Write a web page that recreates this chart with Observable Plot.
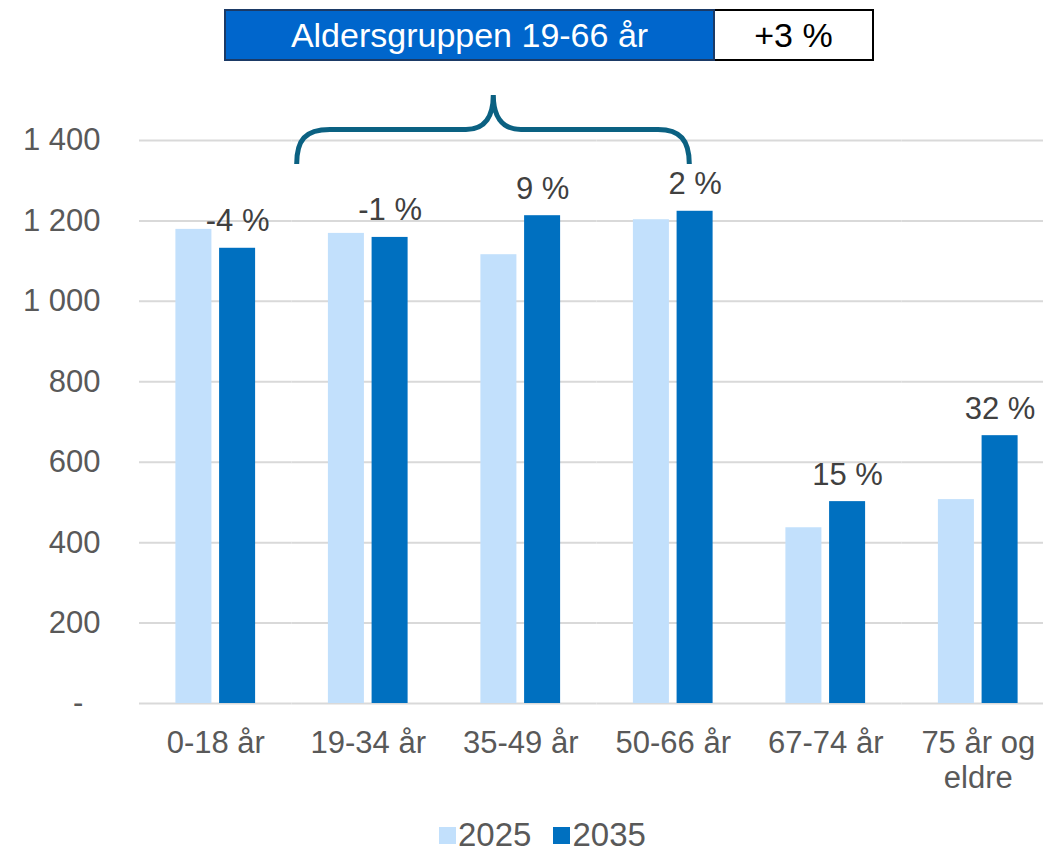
<!DOCTYPE html>
<html>
<head>
<meta charset="utf-8">
<script src="https://cdn.jsdelivr.net/npm/d3@7"></script>
<script src="https://cdn.jsdelivr.net/npm/@observablehq/plot@0.6"></script>
<style>
  html, body { margin: 0; padding: 0; background: #fff; overflow: hidden; }
  body { font-family: "Liberation Sans", Arial, sans-serif; }
  #wrap { position: relative; width: 1043px; height: 851px; }
  #header { position: absolute; left: 224px; top: 9px; display: flex; height: 52px; }
  #header div { box-sizing: border-box; height: 52px; display: flex; align-items: center; justify-content: center; font-size: 34px; }
  #hl { width: 491px; background: #0066CC; color: #fff; border: 2px solid #1B3A66; }
  #hr { width: 159px; background: #fff; color: #000; border: 2px solid #000; border-left: none; }
  #brace { position: absolute; left: 0; top: 0; }
  #chart { position: absolute; left: 0; top: 0; }
  #legend { position: absolute; left: 439px; top: 816px; display: flex; align-items: center; font-size: 33px; color: #595959; }
  #legend .sw { width: 17px; height: 17px; display: inline-block; margin-right: 2px; }
  #legend .item { display: flex; align-items: center; margin-right: 22px; }
</style>
</head>
<body>
<div id="wrap">
  <div id="chart"></div>
  <svg id="brace" width="1043" height="200">
    <path d="M296.7,164 C296.7,140 305,129.5 330,129.5 L466,129.5 C486,129.5 493.3,115 493.3,95 C493.3,115 501,129.5 521,129.5 L658,129.5 C680,129.5 689.3,140 689.3,164"
      fill="none" stroke="#0B6182" stroke-width="5"/>
  </svg>
  <div id="header"><div id="hl">Aldersgruppen 19-66 år</div><div id="hr">+3 %</div></div>
  <div id="legend"></div>
</div>
<script>
const categories = ["0-18 år", "19-34 år", "35-49 år", "50-66 år", "67-74 år", "75 år og\neldre"];
const years = ["2025", "2035"];
const values2025 = [1179, 1169, 1116, 1203, 437, 507];
const values2035 = [1132, 1159, 1213, 1224, 502, 666];
const changeLabels = ["-4 %", "-1 %", "9 %", "2 %", "15 %", "32 %"];
const yTicks = [0, 200, 400, 600, 800, 1000, 1200, 1400];
const colors = ["#C2E0FC", "#0070C0"];

const rows = categories.flatMap((c, i) => [
  {cat: c, year: years[0], value: values2025[i]},
  {cat: c, year: years[1], value: values2035[i]}
]);
const labelRows = categories.map((c, i) => ({cat: c, year: years[1], value: values2035[i], text: changeLabels[i]}));

const fmt = d => d === 0 ? "-\u2007" : d3.format(",")(d).replace(/,/g, "\u00a0");

const chart = Plot.plot({
  width: 1043,
  height: 805,
  marginTop: 140,
  marginLeft: 139,
  marginRight: 0,
  marginBottom: 102,
  style: {fontFamily: "Liberation Sans, Arial, sans-serif", background: "transparent"},
  fx: {domain: categories, range: [139, 1054], padding: 0, round: false, label: null},
  x: {domain: years, paddingInner: 0.176, paddingOuter: 0.833, round: false, axis: null},
  y: {domain: [0, 1400], label: null},
  color: {domain: years, range: colors},
  marks: [
    Plot.ruleY(yTicks, {stroke: "#D9D9D9", strokeWidth: 2}),
    Plot.barY(rows, {fx: "cat", x: "year", y: "value", fill: "year"}),
    Plot.text(labelRows, {fx: "cat", x: "year", y: "value", text: "text", lineAnchor: "bottom", dy: -17, fontSize: 31, fill: "#404040"}),
    Plot.axisY({ticks: yTicks, tickFormat: fmt, tickSize: 0, tickPadding: 39, fontSize: 31, fill: "#595959", label: null}),
    Plot.axisFx({anchor: "bottom", tickSize: 0, tickPadding: 25, fontSize: 31, fill: "#595959", lineHeight: 1.13, label: null})
  ]
});
document.getElementById("chart").appendChild(chart);

const legend = document.getElementById("legend");
years.forEach((y, i) => {
  const item = document.createElement("div");
  item.className = "item";
  const sw = document.createElement("span");
  sw.className = "sw";
  sw.style.background = colors[i];
  const t = document.createElement("span");
  t.textContent = y;
  item.appendChild(sw);
  item.appendChild(t);
  legend.appendChild(item);
});
</script>
</body>
</html>
